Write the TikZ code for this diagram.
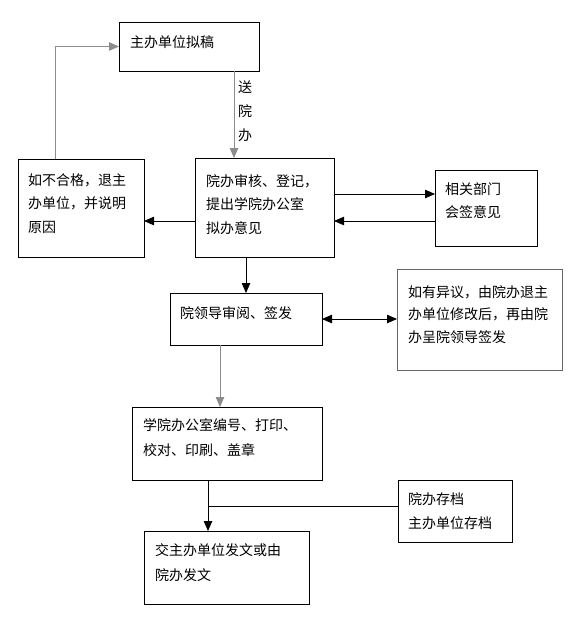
\documentclass[tikz,border=0pt]{standalone}
\usepackage{fontspec}
\newfontfamily\cjk{Noto Sans CJK SC}
\usetikzlibrary{arrows.meta}
\begin{document}
\begin{tikzpicture}[x=1pt,y=-1pt,
  box/.style={draw=black, line width=0.8pt, inner sep=0pt, outer sep=0pt},
  txt/.style={anchor=north west, inner sep=0pt, align=left, text=black,
    font=\cjk\fontsize{14}{23.5}\selectfont},
  conn/.style={line width=0.8pt, -{Triangle[length=10pt,width=8.5pt]}},
  gconn/.style={conn, draw=black!45},
  dconn/.style={line width=0.8pt, {Triangle[length=10pt,width=8.5pt]}-{Triangle[length=10pt,width=8.5pt]}}]
\useasboundingbox (0,0) rectangle (577,618);
% boxes
\node[box, minimum width=140pt, minimum height=49pt] (A) at (189,46.5) {};
\node[box, minimum width=126pt, minimum height=98pt] (B) at (81,208) {};
\node[box, minimum width=139pt, minimum height=99pt] (C) at (264.5,207.5) {};
\node[box, minimum width=102pt, minimum height=76pt] (D) at (486,208) {};
\node[box, minimum width=152pt, minimum height=52pt] (E) at (246,319) {};
\node[box, draw=black!60, minimum width=165pt, minimum height=101pt] (F) at (479.5,319.5) {};
\node[box, minimum width=190pt, minimum height=73pt] (G) at (227,443.5) {};
\node[box, minimum width=165pt, minimum height=73pt] (H) at (226.5,567.5) {};
\node[box, minimum width=114pt, minimum height=62pt] (I) at (455,511) {};
% texts
\node[txt] (tA) at (130,35) {主办单位拟稿};
\node[txt] (tB) at (28,173) {如不合格，退主\\办单位，并说明\\原因};
\node[txt] (tC) at (206,174) {院办审核、登记，\\提出学院办公室\\拟办意见};
\node[txt] (tD) at (445,182) {相关部门\\会签意见};
\node[txt] (tE) at (180,306) {院领导审阅、签发};
\node[txt, font=\cjk\fontsize{14}{22.5}\selectfont] (tF) at (408,285) {如有异议，由院办退主\\办单位修改后，再由院\\办呈院领导签发};
\node[txt, font=\cjk\fontsize{14}{25}\selectfont] (tG) at (143,418) {学院办公室编号、打印、\\校对、印刷、盖章};
\node[txt, font=\cjk\fontsize{14}{25}\selectfont] (tH) at (155,543) {交主办单位发文或由\\院办发文};
\node[txt, font=\cjk\fontsize{14}{24}\selectfont] (tI) at (408,492) {院办存档\\主办单位存档};
\node[txt, anchor=north, align=center, font=\cjk\fontsize{14}{24}\selectfont] (lab) at (245,81) {送\\院\\办};
% helper coordinates
\coordinate (lx) at (55,0);
\coordinate (ax) at (234,0);
\coordinate (ly1) at (0,194);
\coordinate (ly2) at (0,221);
\coordinate (gx) at (220,0);
\coordinate (J) at (208,506);
% connectors
\draw[gconn] (B.north -| lx) |- (A.west);
\draw[gconn] (A.south -| ax) -- (C.north -| ax);
\draw[conn] (C.west |- ly2) -- (B.east |- ly2);
\draw[conn] (C.east |- ly1) -- (D.west |- ly1);
\draw[conn] (D.west |- ly2) -- (C.east |- ly2);
\draw[conn] (C.south -| E.north) -- (E.north);
\draw[dconn] (E.east) -- (F.west |- E.east);
\draw[gconn] (E.south -| gx) -- (G.north -| gx);
\draw[conn] (G.south -| J) -- (H.north -| J);
\draw[line width=0.8pt] (I.west |- J) -- (J);
\end{tikzpicture}
\end{document}
